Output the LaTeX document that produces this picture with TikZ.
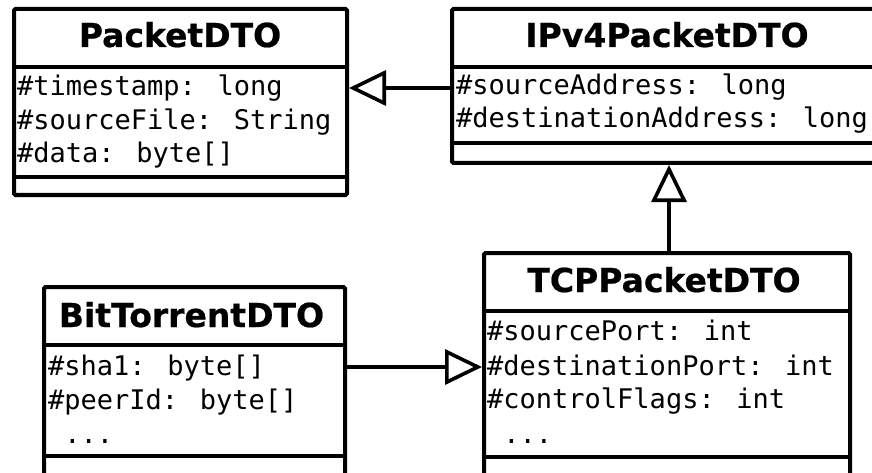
\documentclass[tikz,border=0pt]{standalone}
\usepackage{fontspec}
\setmainfont{DejaVu Sans}
\newfontfamily\titlefont{DejaVu Sans}[BoldFeatures={FakeBold=0.6}]
\newfontfamily\attrfont{DejaVu Sans Mono}
\usetikzlibrary{arrows.meta}

\tikzset{
  umlbox/.style={draw=black, line width=4pt, rounded corners=1.5pt, inner sep=0pt,
    anchor=north west, minimum width=#1},
  classname/.style={anchor=base, inner sep=0pt,
    font=\titlefont\bfseries\fontsize{33}{36}\selectfont},
  attr/.style={anchor=base west, inner sep=0pt,
    font=\attrfont\fontsize{27}{34}\selectfont},
  divider/.style={line width=3.6pt},
  gen/.style={line width=3.6pt, -{Triangle[length=37pt, width=35pt, fill=white, line width=3.6pt]}},
}

\begin{document}
\begin{tikzpicture}[x=1pt, y=-1pt]
  \useasboundingbox (0,0) rectangle (872,473);
  \clip (0,0) rectangle (872,473);
  \fill[white] (0,0) rectangle (872,473);

  % PacketDTO
  \node[umlbox=333pt, minimum height=186pt] (packet) at (12,7) {};
  \draw[divider] ([yshift=-60pt]packet.north west) -- ([yshift=-60pt]packet.north east);
  \draw[divider] ([yshift=-170pt]packet.north west) -- ([yshift=-170pt]packet.north east);
  \node[classname] (packettitle) at (180,47) {PacketDTO};
  \node[attr] (packeta1) at (17,96)  {\#timestamp: long};
  \node[attr] (packeta2) at (17,130) {\#sourceFile: String};
  \node[attr] (packeta3) at (17,163) {\#data: byte[]};

  % IPv4PacketDTO
  \node[umlbox=434pt, minimum height=154pt] (ipv4) at (450,7) {};
  \draw[divider] ([yshift=-60pt]ipv4.north west) -- ([yshift=-60pt]ipv4.north east);
  \draw[divider] ([yshift=-136pt]ipv4.north west) -- ([yshift=-136pt]ipv4.north east);
  \node[classname] (ipv4title) at (667,47) {IPv4PacketDTO};
  \node[attr] (ipv4a1) at (456,95)  {\#sourceAddress: long};
  \node[attr] (ipv4a2) at (456,128) {\#destinationAddress: long};

  % TCPPacketDTO
  \node[umlbox=366pt, minimum height=250pt] (tcp) at (482,251) {};
  \draw[divider] ([yshift=-60pt]tcp.north west) -- ([yshift=-60pt]tcp.north east);
  \draw[divider] ([yshift=-206pt]tcp.north west) -- ([yshift=-206pt]tcp.north east);
  \node[classname] (tcptitle) at (664,292) {TCPPacketDTO};
  \node[attr] (tcpa1) at (487,340) {\#sourcePort: int};
  \node[attr] (tcpa2) at (487,375) {\#destinationPort: int};
  \node[attr] (tcpa3) at (487,408) {\#controlFlags: int};
  \node[attr] (tcpa4) at (487,443) {\ ...};

  % BitTorrentDTO
  \node[umlbox=301pt, minimum height=250pt] (bt) at (42,285) {};
  \draw[divider] ([yshift=-60pt]bt.north west) -- ([yshift=-60pt]bt.north east);
  \draw[divider] ([yshift=-171pt]bt.north west) -- ([yshift=-171pt]bt.north east);
  \node[classname] (bttitle) at (191.5,327) {BitTorrentDTO};
  \node[attr] (bta1) at (48,375) {\#sha1: byte[]};
  \node[attr] (bta2) at (48,409) {\#peerId: byte[]};
  \node[attr] (bta3) at (48,443) {\ ...};

  % generalisations
  \draw[gen] ([yshift=-81pt]ipv4.north west) -- ([yshift=-81pt]packet.north east);
  \draw[gen] (tcp.north -| ipv4.south) -- (ipv4.south);
  \draw[gen] ([yshift=-82pt]bt.north east) -- ([yshift=-82pt]bt.north east -| tcp.west);
\end{tikzpicture}
\end{document}
